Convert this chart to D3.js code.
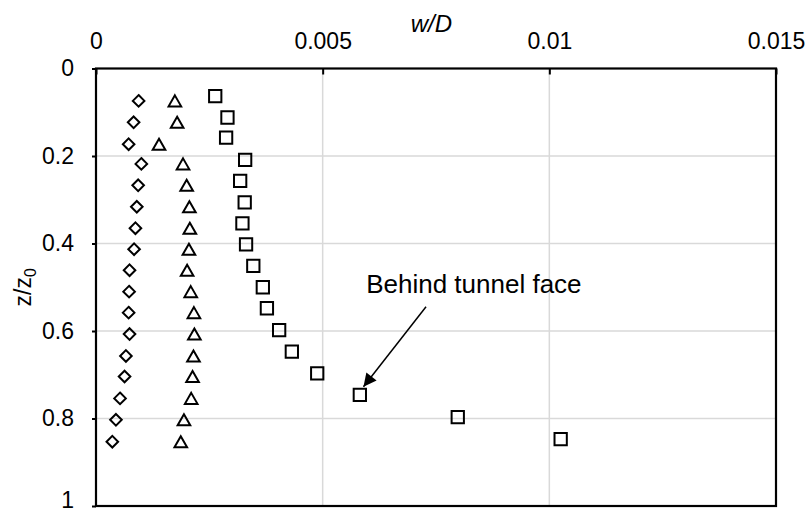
<!DOCTYPE html>
<html>
<head>
<meta charset="utf-8">
<script src="https://cdn.jsdelivr.net/npm/d3@7"></script>
<style>
    body { margin: 0; background: #fff; }
    svg { display: block; font-family: "Liberation Sans", Arial, sans-serif; }
</style>
</head>
<body>
<svg id="drawing_region"></svg>
<script>
// values
const xTicks = [0, 0.005, 0.01, 0.015];
const xTickLabels = ["0", "0.005", "0.01", "0.015"];
const yTicks = [0, 0.2, 0.4, 0.6, 0.8, 1];
const yTickLabels = ["0", "0.2", "0.4", "0.6", "0.8", "1"];

// depth for diamonds and triangles
const depthA = [0.074, 0.123, 0.173, 0.218, 0.267, 0.316, 0.365, 0.413, 0.461, 0.510, 0.558, 0.607, 0.657, 0.704, 0.754, 0.803, 0.853];
const wDiamond = [0.00094, 0.00083, 0.00072, 0.00100, 0.00093, 0.00090, 0.00087, 0.00084, 0.00074, 0.00073, 0.00072, 0.00074, 0.00066, 0.00063, 0.00053, 0.00044, 0.00036];
const wTriangle = [0.00174, 0.00179, 0.00139, 0.00192, 0.00200, 0.00206, 0.00207, 0.00205, 0.00201, 0.00209, 0.00216, 0.00217, 0.00215, 0.00213, 0.00210, 0.00194, 0.00187];

// depth for squares
const depthB = [0.063, 0.112, 0.158, 0.209, 0.257, 0.306, 0.354, 0.402, 0.451, 0.500, 0.548, 0.598, 0.647, 0.697, 0.746, 0.797, 0.847];
const wSquare = [0.00263, 0.00290, 0.00287, 0.00329, 0.00318, 0.00328, 0.00323, 0.00331, 0.00347, 0.00368, 0.00377, 0.00404, 0.00432, 0.00488, 0.00582, 0.00798, 0.01025];

const noteText = "Behind tunnel face";
const noteAt = [0.00596, 0.5125];
const arrowFrom = [0.00728, 0.5445];
const arrowTo = [0.00590, 0.7273];

const width = 809, height = 513;
const margin = {top: 68.5, right: 33, bottom: 7, left: 96};
const innerW = width - margin.left - margin.right;
const innerH = height - margin.top - margin.bottom;

const svg = d3.select('#drawing_region')
    .attr('width', width)
    .attr('height', height);

const chart = svg.append('g')
    .attr('transform', `translate(${margin.left}, ${margin.top})`);

const xscale = d3.scaleLinear().domain([0, 0.015]).range([0, innerW]);
const yscale = d3.scaleLinear().domain([0, 1]).range([0, innerH]);

// grid
chart.append('g').selectAll('line.vg')
    .data(xTicks.slice(1, -1))
    .join('line')
    .attr('x1', d => xscale(d)).attr('x2', d => xscale(d))
    .attr('y1', 0).attr('y2', innerH)
    .attr('stroke', '#d9d9d9').attr('stroke-width', 1.5);

chart.append('g').selectAll('line.hg')
    .data(yTicks.slice(1, -1))
    .join('line')
    .attr('x1', 0).attr('x2', innerW)
    .attr('y1', d => yscale(d)).attr('y2', d => yscale(d))
    .attr('stroke', '#d9d9d9').attr('stroke-width', 1.5);

// axes
const xaxis = d3.axisTop(xscale)
    .tickValues(xTicks)
    .tickFormat((d, i) => xTickLabels[i])
    .tickSizeInner(-6).tickSizeOuter(0).tickPadding(20);

const xaxis_group = chart.append('g').call(xaxis);

const yaxis = d3.axisLeft(yscale)
    .tickValues(yTicks)
    .tickFormat((d, i) => yTickLabels[i])
    .tickSizeInner(4).tickSizeOuter(0).tickPadding(18);

const yaxis_group = chart.append('g').call(yaxis);

[xaxis_group, yaxis_group].forEach(g => {
    g.select('.domain').remove();
    g.selectAll('line').attr('stroke', '#000').attr('stroke-width', 2);
    g.selectAll('text')
        .attr('fill', '#000')
        .attr('font-size', '23px')
        .attr('font-family', '"Liberation Sans", Arial, sans-serif');
});

// keep the bottom label inside the picture
yaxis_group.selectAll('text').filter(d => d === 1).attr('dy', '0.08em');

// frame
chart.append('rect')
    .attr('x', 0).attr('y', 0)
    .attr('width', innerW).attr('height', innerH)
    .attr('fill', 'none')
    .attr('stroke', '#000')
    .attr('stroke-width', 2.2);

// axis titles
svg.append('text')
    .attr('x', margin.left + xscale(0.0074))
    .attr('y', 31.5)
    .attr('text-anchor', 'middle')
    .attr('font-size', '24px')
    .attr('font-style', 'italic')
    .text('w/D');

const ylab = svg.append('text')
    .attr('transform', `translate(30.5, ${margin.top + innerH / 2}) rotate(-90)`)
    .attr('text-anchor', 'middle')
    .attr('font-size', '23px');
ylab.append('tspan').text('z/z');
ylab.append('tspan').attr('font-size', '16px').attr('dy', 5).text('0');

// markers
const diamondPath = r => `M0,${-r}L${r},0L0,${r}L${-r},0Z`;
const trianglePath = (w, h) => `M0,${-h / 2}L${w / 2},${h / 2}L${-w / 2},${h / 2}Z`;
const squarePath = s => `M${-s / 2},${-s / 2}h${s}v${s}h${-s}Z`;

const series = [
    { w: wDiamond, z: depthA, path: diamondPath(5.8) },
    { w: wTriangle, z: depthA, path: trianglePath(12.6, 11) },
    { w: wSquare, z: depthB, path: squarePath(12.3) }
];

series.forEach(s => {
    chart.append('g').selectAll('path')
        .data(s.w.map((w, i) => ({ w: w, z: s.z[i] })))
        .join('path')
        .attr('transform', d => `translate(${xscale(d.w)}, ${yscale(d.z)})`)
        .attr('d', s.path)
        .attr('fill', 'none')
        .attr('stroke', '#000')
        .attr('stroke-width', 2)
        .attr('stroke-linejoin', 'miter');
});

// annotation
svg.append('defs').append('marker')
    .attr('id', 'arrowhead')
    .attr('viewBox', '0 0 10 10')
    .attr('refX', 10).attr('refY', 5)
    .attr('markerUnits', 'userSpaceOnUse')
    .attr('markerWidth', 15).attr('markerHeight', 13)
    .attr('orient', 'auto')
    .append('path')
    .attr('d', 'M0,0L10,5L0,10Z')
    .attr('fill', '#000');

chart.append('line')
    .attr('x1', xscale(arrowFrom[0])).attr('y1', yscale(arrowFrom[1]))
    .attr('x2', xscale(arrowTo[0])).attr('y2', yscale(arrowTo[1]))
    .attr('stroke', '#000')
    .attr('stroke-width', 1.5)
    .attr('marker-end', 'url(#arrowhead)');

chart.append('text')
    .attr('x', xscale(noteAt[0]))
    .attr('y', yscale(noteAt[1]))
    .attr('font-size', '26px')
    .attr('fill', '#000')
    .text(noteText);
</script>
</body>
</html>
